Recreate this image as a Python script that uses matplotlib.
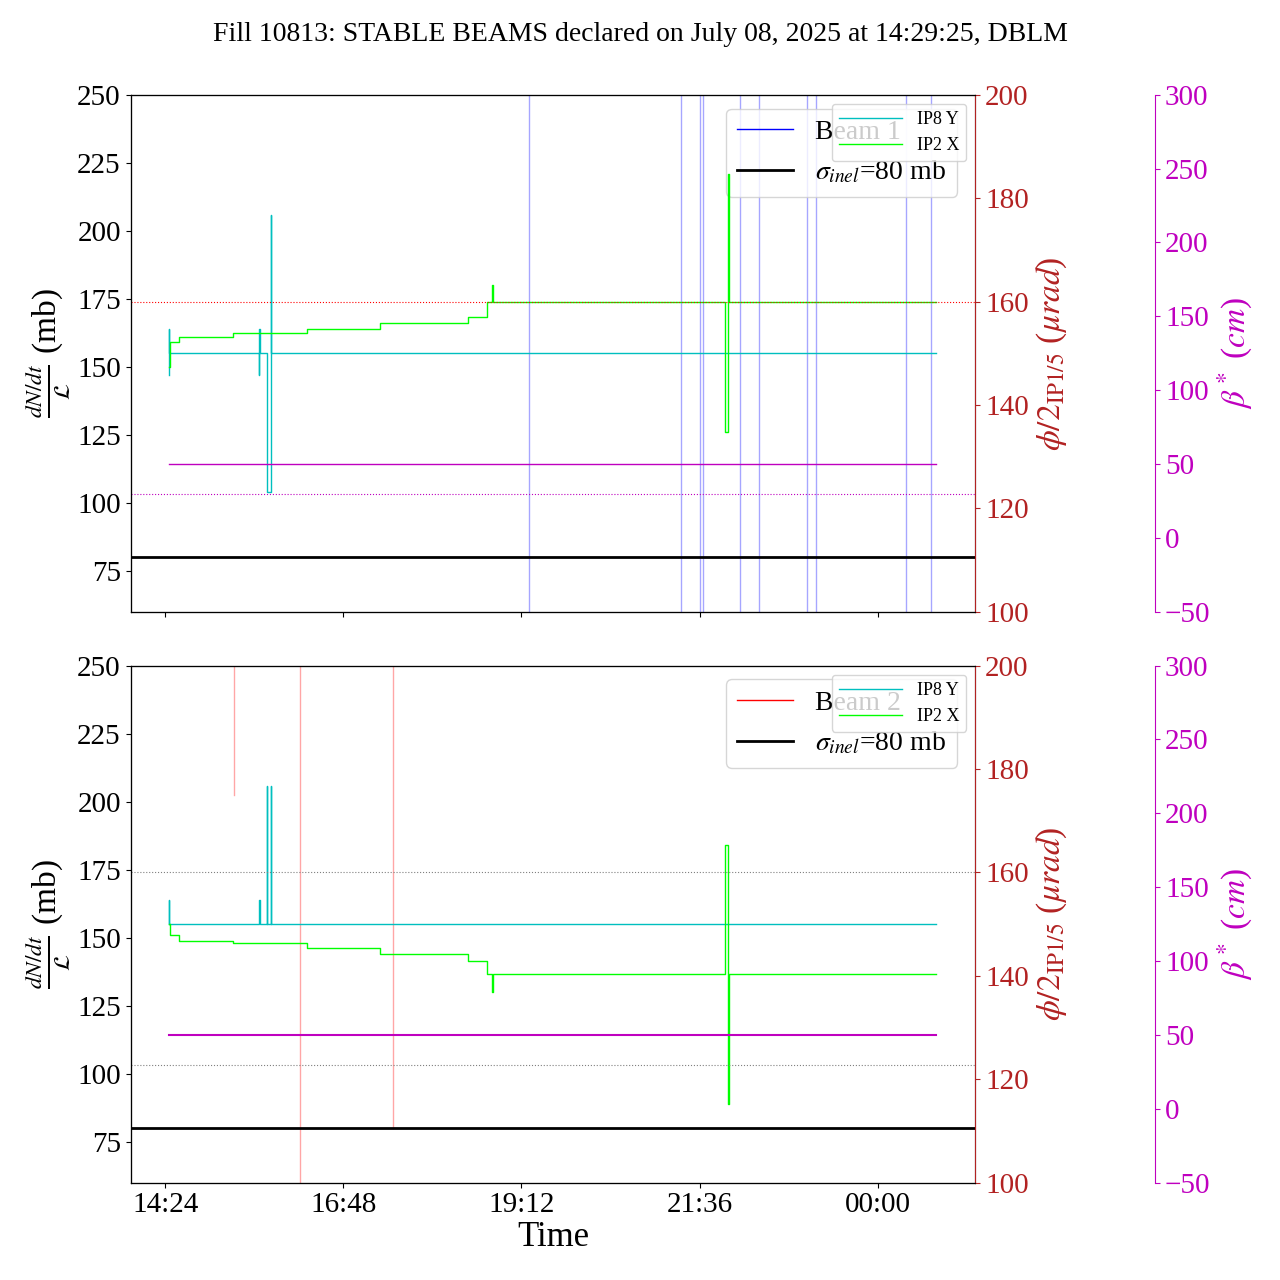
import matplotlib
matplotlib.use("Agg")
import matplotlib.pyplot as plt
import matplotlib.dates as mdates
import pandas as pd

plt.rcParams['font.family'] = ['Liberation Serif', 'DejaVu Serif']
plt.rcParams['mathtext.fontset'] = 'stix'

day = "2025-07-08 "
def T(s):
    d = pd.Timestamp(day + s)
    if d.hour < 12:
        d += pd.Timedelta(days=1)
    return d

# crossing angles (urad)
b1_ip8_t = ["14:27:00","14:27:10","14:27:20","14:27:40","15:40:00","15:40:10","15:40:20","15:40:40","15:46:00","15:46:30","15:49:30","15:49:40","15:50:00","00:47:00"]
b1_ip8_v = [145.8,154.7,150,150,145.8,154.7,150,150,150,123.2,176.8,150,150,150]
b1_ip2_t = ["14:27","14:28","14:35","15:19","16:19","17:18","18:29","18:44","18:48","18:49","21:56","21:56:30","21:59","21:59:30","22:00","00:47"]
b1_ip2_v = [147.4,152.1,153.2,153.9,154.7,155.8,157.1,160,163.2,160,160,134.7,184.7,184.7,160,160]

b2_ip8_t = ["14:27:00","14:27:10","14:27:20","15:40:00","15:40:10","15:40:30","15:46:00","15:46:10","15:46:40","15:49:00","15:49:10","15:49:40","00:47:00"]
b2_ip8_v = [150,154.7,150,150,154.7,150,150,176.8,150,150,176.8,150,150]
b2_ip2_t = ["14:27","14:28","14:35","15:19","16:19","17:18","18:29","18:44","18:48","18:49","21:56","21:56:30","21:59","21:59:30","22:00","00:47"]
b2_ip2_v = [150,147.9,146.8,146.3,145.3,144.2,142.9,140.3,136.8,140.3,140.3,165.3,115.3,115.3,140.3,140.3]

beta_t = ["14:27","00:47"]
beta_v = [50,50]

beam1_vlines = ["19:18","21:21","21:36","21:39","22:09","22:24","23:03","23:10","00:23","00:43"]
beam2_vlines = [("15:20",202.5,250),("16:13",60,250),("17:28",80,250)]

sigma_inel = 80
phi_ref = 160
beta_ref = 30

fig = plt.figure(figsize=(12.8,12.8), dpi=100)
axA = fig.add_axes([0.102,0.522,0.66,0.404])
axB = fig.add_axes([0.102,0.076,0.66,0.404], sharex=axA)
fig.suptitle("Fill 10813: STABLE BEAMS declared on July 08, 2025 at 14:29:25, DBLM", fontsize=20, y=0.983)

panels = [(axA, "Beam 1", "blue", b1_ip8_t, b1_ip8_v, b1_ip2_t, b1_ip2_v),
          (axB, "Beam 2", "red", b2_ip8_t, b2_ip8_v, b2_ip2_t, b2_ip2_v)]
for i,(ax, name, col, t8, v8, t2, v2) in enumerate(panels):
    ax.set_ylim(60,250)
    ax.set_xlim(T("13:56"), T("01:19"))
    if i == 0:
        for s in beam1_vlines:
            ax.axvline(T(s), color=col, alpha=0.35, lw=1)
    else:
        for s,y0,y1 in beam2_vlines:
            ax.plot([T(s),T(s)],[y0,y1], color=col, alpha=0.35, lw=1)
    hb, = ax.plot([], [], color=col, lw=1, label=name)
    hs = ax.axhline(sigma_inel, color='black', lw=2, label=r"$\sigma_{inel}$=80 mb")
    ax.legend(handles=[hb, hs], loc='upper right', fontsize=20, bbox_to_anchor=(0.995,1.0))
    ax.set_ylabel(r"$\frac{dN/dt}{\mathcal{L}}$ (mb)", fontsize=24)
    ax.tick_params(labelsize=21)
    ax.set_yticks([75,100,125,150,175,200,225,250])

    ax2 = ax.twinx()
    ax2.set_ylim(100,200)
    ax2.plot([T(s) for s in t8], v8, drawstyle='steps-post', color='c', lw=1, label="IP8 Y")
    ax2.plot([T(s) for s in t2], v2, drawstyle='steps-post', color='lime', lw=1, label="IP2 X")
    ax2.axhline(phi_ref, color='red' if i==0 else 'gray', ls=':', lw=0.8)
    ax2.set_ylabel(r"$\phi/2_{\mathrm{IP1/5}}$ ($\mu rad$)", fontsize=24, color='firebrick')
    ax2.tick_params(labelsize=21, colors='firebrick')
    ax2.spines['right'].set_color('firebrick')
    ax2.legend(loc='upper right', fontsize=13, handlelength=3.5, bbox_to_anchor=(1.0,1.0))

    ax3 = ax.twinx()
    ax3.spines['right'].set_position(('axes',1.213))
    ax3.spines['right'].set_color('m')
    ax3.set_ylim(-50,300)
    ax3.plot([T(s) for s in beta_t], beta_v, color='m', lw=1.5 if i else 1)
    ax3.axhline(beta_ref, color='m' if i==0 else 'gray', ls=':', lw=0.8)
    ax3.set_ylabel(r"$\beta^*$ ($cm$)", fontsize=24, color='m')
    ax3.tick_params(labelsize=21, colors='m')

axB.set_xticks([T("14:24"),T("16:48"),T("19:12"),T("21:36"),T("00:00")])
axB.xaxis.set_major_formatter(mdates.DateFormatter("%H:%M"))
axB.set_xlabel("Time", fontsize=25, labelpad=2)
plt.setp(axA.get_xticklabels(), visible=False)
fig.savefig("out.png", dpi=100)
